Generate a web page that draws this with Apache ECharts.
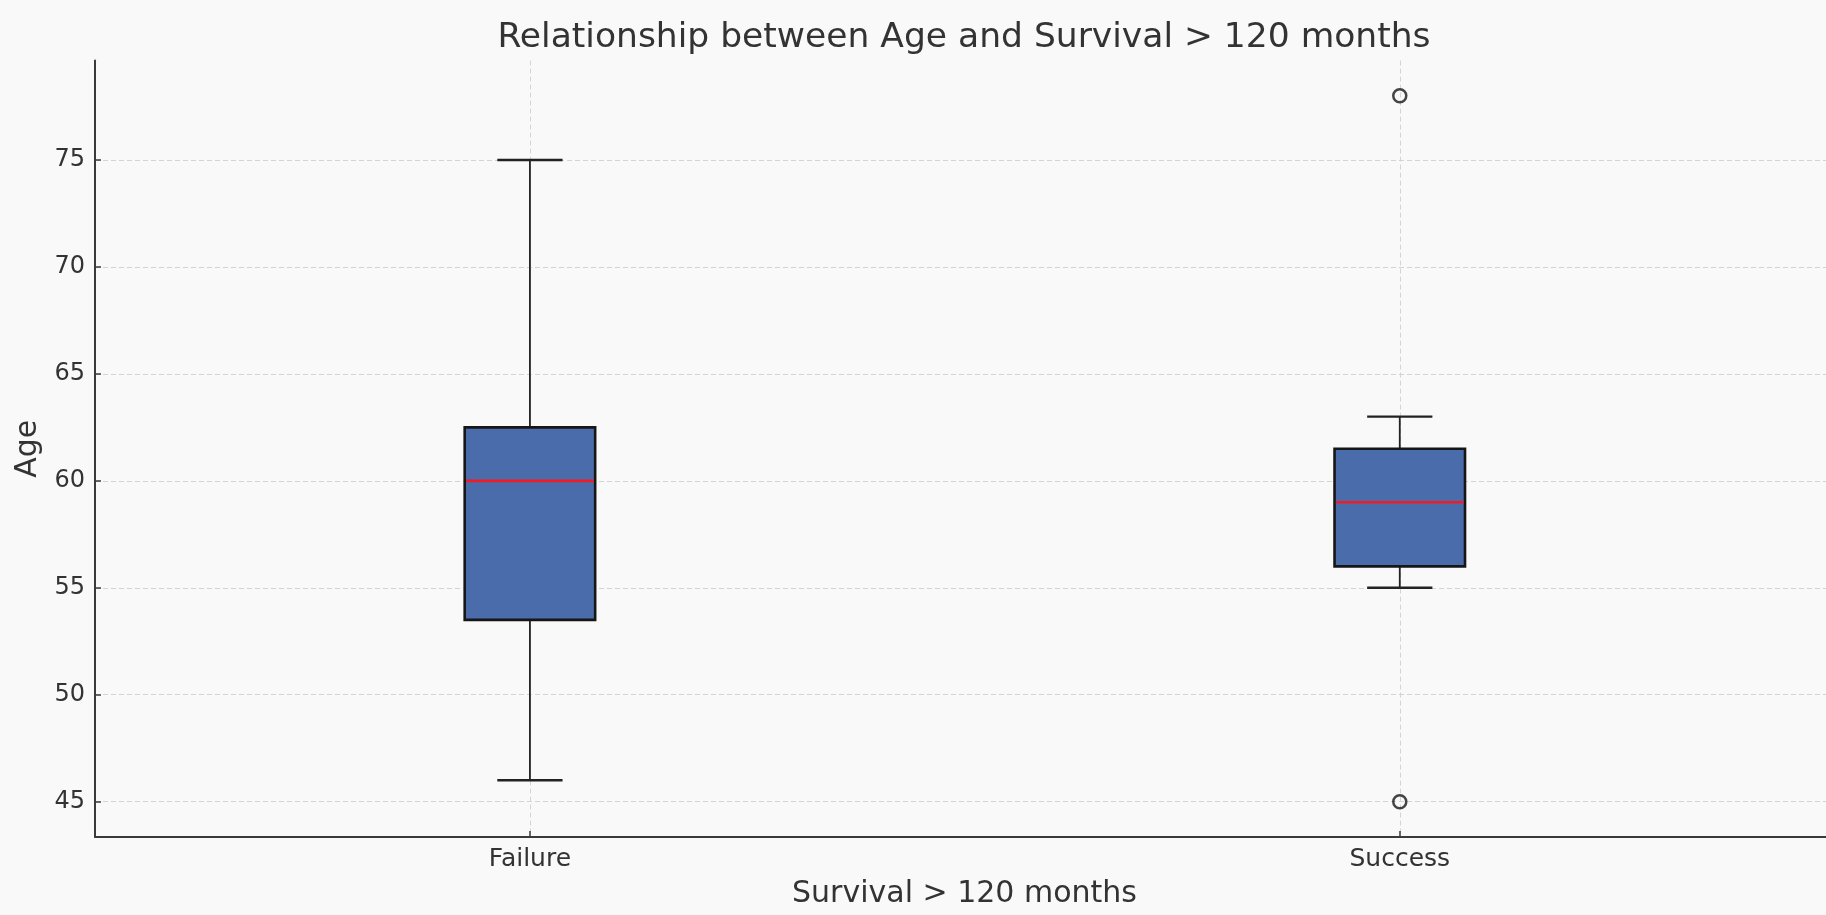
<!DOCTYPE html>
<html>
<head>
<meta charset="utf-8">
<script src="https://cdn.jsdelivr.net/npm/echarts@6/dist/echarts.min.js"></script>
<style>
html,body{margin:0;padding:0;background:#f9f9f9;}
#chart{width:1826px;height:915px;}
</style>
</head>
<body>
<div id="chart"></div>
<script>
const categories = ['Failure', 'Success'];
// [whiskerLow, Q1, median, Q3, whiskerHigh]
const boxFailure = [46, 53.5, 60, 62.5, 75];
const boxSuccess = [55, 56, 59, 61.5, 63];
const outliersSuccess = [78, 45];
const yTicks = [45, 50, 55, 60, 65, 70, 75];
const titleText = 'Relationship between Age and Survival > 120 months';
const xName = 'Survival > 120 months';
const yName = 'Age';

const boxes = [boxFailure, boxSuccess];
const boxData = boxes.map((b, i) => [i + 1].concat(b));
const outlierData = outliersSuccess.map(v => [2, v]);

const chart = echarts.init(document.getElementById('chart'), null, {renderer: 'canvas'});
const textColor = '#333333';
const font = 'DejaVu Sans';

function renderBox(params, api) {
  const x = api.value(0);
  const lo = api.value(1), q1 = api.value(2), med = api.value(3), q3 = api.value(4), hi = api.value(5);
  const pLo = api.coord([x, lo]);
  const pQ1 = api.coord([x, q1]);
  const pMed = api.coord([x, med]);
  const pQ3 = api.coord([x, q3]);
  const pHi = api.coord([x, hi]);
  const boxW = api.size([0.15, 0])[0];
  const capW = api.size([0.075, 0])[0];
  const cx = pMed[0];
  const line = (x1, y1, x2, y2, w, c) => ({
    type: 'line', shape: {x1, y1, x2, y2},
    style: {stroke: c, lineWidth: w}
  });
  return {
    type: 'group',
    children: [
      line(cx, pQ1[1], cx, pLo[1], 1.8, '#222222'),
      line(cx, pQ3[1], cx, pHi[1], 1.8, '#222222'),
      line(cx - capW / 2, pLo[1], cx + capW / 2, pLo[1], 2.4, '#222222'),
      line(cx - capW / 2, pHi[1], cx + capW / 2, pHi[1], 2.4, '#222222'),
      {
        type: 'rect',
        shape: {x: cx - boxW / 2, y: pQ3[1], width: boxW, height: pQ1[1] - pQ3[1]},
        style: {fill: '#4a6caa', stroke: '#161616', lineWidth: 2.6}
      },
      line(cx - boxW / 2 + 1.3, pMed[1], cx + boxW / 2 - 1.3, pMed[1], 2.6, '#ee1c25')
    ]
  };
}

const option = {
  backgroundColor: '#f9f9f9',
  animation: false,
  title: {
    text: titleText,
    left: 959, top: 16, textAlign: 'center',
    textStyle: {fontFamily: font, fontSize: 34.5, fontWeight: 'normal', color: textColor}
  },
  grid: {left: 95, right: 0, top: 60.5, bottom: 78, containLabel: false},
  xAxis: {
    type: 'value', min: 0.5, max: 2.49,
    name: xName, nameLocation: 'middle', nameGap: 42,
    nameTextStyle: {fontFamily: font, fontSize: 30, color: textColor, padding: [0, 0, 0, 8]},
    axisLine: {show: true, onZero: false, lineStyle: {color: '#3a3a3a', width: 2}},
    axisTick: {show: true, inside: true, length: 6, customValues: [1, 2], lineStyle: {color: '#3a3a3a', width: 1.5}},
    axisLabel: {
      customValues: [1, 2], margin: 10,
      fontFamily: font, fontSize: 25, color: textColor,
      formatter: v => categories[Math.round(v) - 1] || ''
    },
    splitLine: {show: true, lineStyle: {color: '#d4d4d4', type: [5, 3], width: 1}}
  },
  yAxis: {
    type: 'value', min: 43.35, max: 79.65,
    name: yName, nameLocation: 'middle', nameGap: 52, nameRotate: 90,
    nameTextStyle: {fontFamily: font, fontSize: 30, color: textColor},
    axisLine: {show: true, lineStyle: {color: '#3a3a3a', width: 2}},
    axisTick: {show: true, inside: true, length: 6, customValues: yTicks, lineStyle: {color: '#3a3a3a', width: 1.5}},
    axisLabel: {customValues: yTicks, margin: 10, fontFamily: font, fontSize: 24, color: textColor},
    splitLine: {show: true, lineStyle: {color: '#d4d4d4', type: [5, 3], width: 1}}
  },
  series: [
    {
      type: 'custom',
      renderItem: renderBox,
      data: boxData,
      encode: {x: 0, y: [1, 2, 3, 4, 5]},
      z: 3
    },
    {
      type: 'scatter',
      data: outlierData,
      symbol: 'circle',
      symbolSize: 13,
      itemStyle: {color: 'rgba(0,0,0,0)', borderColor: '#161616', borderWidth: 2.5},
      z: 4
    }
  ]
};
chart.setOption(option);
</script>
</body>
</html>
